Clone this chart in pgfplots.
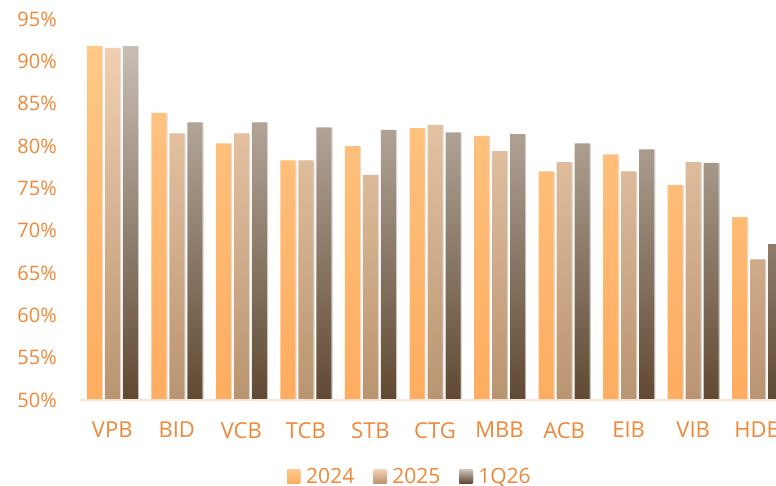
\documentclass[border=0pt]{standalone}
\usepackage{fontspec}
\setmainfont{Open Sans}
\usepackage{pgfplots}
\pgfplotsset{compat=1.18}
\usetikzlibrary{shadows}
\definecolor{txt}{RGB}{240,135,55}
\definecolor{baseln}{RGB}{252,228,212}
\definecolor{aTop}{RGB}{255,200,135}
\definecolor{aBot}{RGB}{255,172,95}
\definecolor{bTop}{RGB}{240,207,176}
\definecolor{bBot}{RGB}{185,148,112}
\definecolor{cTop}{RGB}{200,190,180}
\definecolor{cBot}{RGB}{96,73,50}
\begin{document}
\begin{tikzpicture}[x=1pt,y=1pt]
\begin{axis}[
  at={(60pt,64.5pt)}, anchor=south west,
  scale only axis, width=532.5pt, height=285.75pt,
  xmin=-0.5, xmax=10.5, ymin=0, ymax=45,
  ybar=2.25pt, bar width=11.25pt,
  y filter/.expression={y-50},
  xtick={0,...,10},
  xticklabels={VPB,BID,VCB,TCB,STB,CTG,MBB,ACB,EIB,VIB,HDB},
  ytick={0,5,...,45},
  yticklabels={50\%,55\%,60\%,65\%,70\%,75\%,80\%,85\%,90\%,95\%},
  major tick length=0pt,
  axis line style={draw=none},
  tick label style={text=txt, inner sep=0pt},
  yticklabel style={anchor=east, xshift=-17.25pt, font=\fontsize{15}{18}\selectfont},
  xticklabel style={anchor=north, yshift=-16.5pt, font=\fontsize{16.5}{19}\selectfont},
  clip=false,
  legend columns=3,
  legend style={at={(0.2915,-0.2008)}, anchor=west, draw=none, fill=none, inner sep=0pt,
    font=\fontsize{15.75}{18}\selectfont, text=txt,
    nodes={inner sep=0pt},
    /tikz/every odd column/.append style={column sep=4.5pt},
    /tikz/every even column/.append style={column sep=14.25pt}},
  legend image code/.code={\path[#1] (0pt,-4.9pt) rectangle (9.75pt,4.9pt);},
  every axis plot/.append style={draw=none,
    drop shadow={shadow xshift=0.9pt, shadow yshift=-0.3pt, opacity=0.22}},
]
\addplot[top color=aTop, bottom color=aBot] coordinates {
 (0,91.8) (1,83.9) (2,80.3) (3,78.3) (4,80.0) (5,82.1) (6,81.2) (7,77.0) (8,79.0) (9,75.4) (10,71.6)};
\addplot[top color=bTop, bottom color=bBot] coordinates {
 (0,91.6) (1,81.5) (2,81.5) (3,78.3) (4,76.6) (5,82.5) (6,79.4) (7,78.1) (8,77.0) (9,78.1) (10,66.6)};
\addplot[top color=cTop, bottom color=cBot] coordinates {
 (0,91.8) (1,82.8) (2,82.8) (3,82.2) (4,81.9) (5,81.6) (6,81.4) (7,80.3) (8,79.6) (9,78.0) (10,68.4)};
\legend{2024,2025,1Q26}
\draw[baseln, line width=1.5pt] (rel axis cs:0,0) -- (rel axis cs:1,0);
\end{axis}
\pgfresetboundingbox
\useasboundingbox (0,0) rectangle (582,364.5);
\end{tikzpicture}
\end{document}
